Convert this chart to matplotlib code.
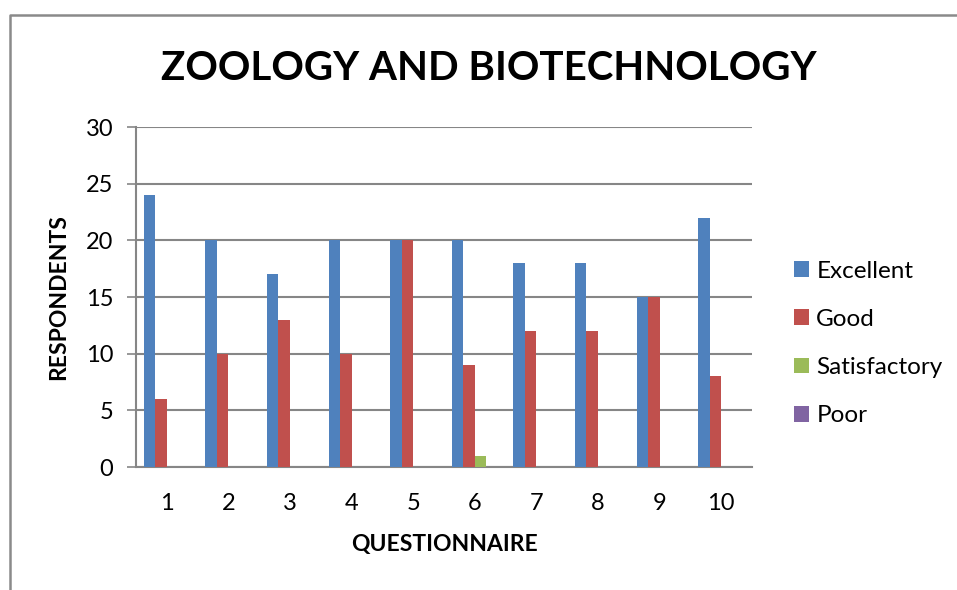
import matplotlib
matplotlib.use("Agg")
import matplotlib.pyplot as plt
from matplotlib.lines import Line2D
from matplotlib.patches import Patch
import numpy as np

questions = ["1", "2", "3", "4", "5", "6", "7", "8", "9", "10"]
series_names = ["Excellent", "Good", "Satisfactory", "Poor"]
excellent = [24, 20, 17, 20, 20, 20, 18, 18, 15, 22]
good = [6, 10, 13, 10, 20, 9, 12, 12, 15, 8]
satisfactory = [0, 0, 0, 0, 0, 1, 0, 0, 0, 0]
poor = [0, 0, 0, 0, 0, 0, 0, 0, 0, 0]
colors = ["#4F81BD", "#C0504D", "#9BBB59", "#8064A2"]
yticks = [0, 5, 10, 15, 20, 25, 30]

plt.rcParams['font.family'] = ['Lato', 'DejaVu Sans']

W, H = 957, 590
fig = plt.figure(figsize=(W / 100, H / 100), dpi=100)
fig.patch.set_facecolor("white")

def px(x0, y0, x1, y1):
    return [x0 / W, 1 - y1 / H, (x1 - x0) / W, (y1 - y0) / H]

ax = fig.add_axes(px(136, 127, 752, 467))

series = [excellent, good, satisfactory, poor]
n = len(questions)
x = np.arange(n)
bw = 0.1875
for i, (vals, c, name) in enumerate(zip(series, colors, series_names)):
    offs = (i - 1.5) * bw
    ax.bar(x + offs, vals, width=bw, color=c, label=name, linewidth=0, zorder=3)

ax.set_xlim(-0.5, n - 0.5)
ax.set_ylim(0, 30)
ax.set_yticks(yticks)
ax.set_xticks(x)
ax.set_xticklabels(questions)
ax.yaxis.grid(True, color="#868686", linewidth=1.5, zorder=0)
ax.set_axisbelow(True)
for s in ["top", "right"]:
    ax.spines[s].set_visible(False)
for s in ["left", "bottom"]:
    ax.spines[s].set_color("#868686")
    ax.spines[s].set_linewidth(1.5)
ax.tick_params(axis="y", length=6.5, width=1.2, color="#868686", pad=10, labelsize=17)
ax.tick_params(axis="x", length=0, pad=19, labelsize=17)

ax.set_ylabel("RESPONDENTS", fontsize=16.5, fontweight="bold", labelpad=12)
ax.set_xlabel("QUESTIONNAIRE", fontsize=16.5, fontweight="bold", labelpad=14)

fig.text(489 / W, 1 - 68 / H, "ZOOLOGY AND BIOTECHNOLOGY", ha="center", va="center",
         fontsize=29, fontweight="bold")

handles = [Patch(facecolor=c, edgecolor="none") for c in colors]
fig.legend(handles, series_names, loc="center left", bbox_to_anchor=(794 / W, 1 - 343.5 / H),
           frameon=False, fontsize=17.5, handlelength=0.62, handleheight=0.62,
           handletextpad=0.3, labelspacing=1.12, borderpad=0, borderaxespad=0)

fig.add_artist(Line2D([10 / W, 10 / W, 0.999], [0.0, 1 - 15 / H, 1 - 15 / H],
                      transform=fig.transFigure, color="#8a8a8a", linewidth=1.8))

fig.savefig("out.png", dpi=100)
